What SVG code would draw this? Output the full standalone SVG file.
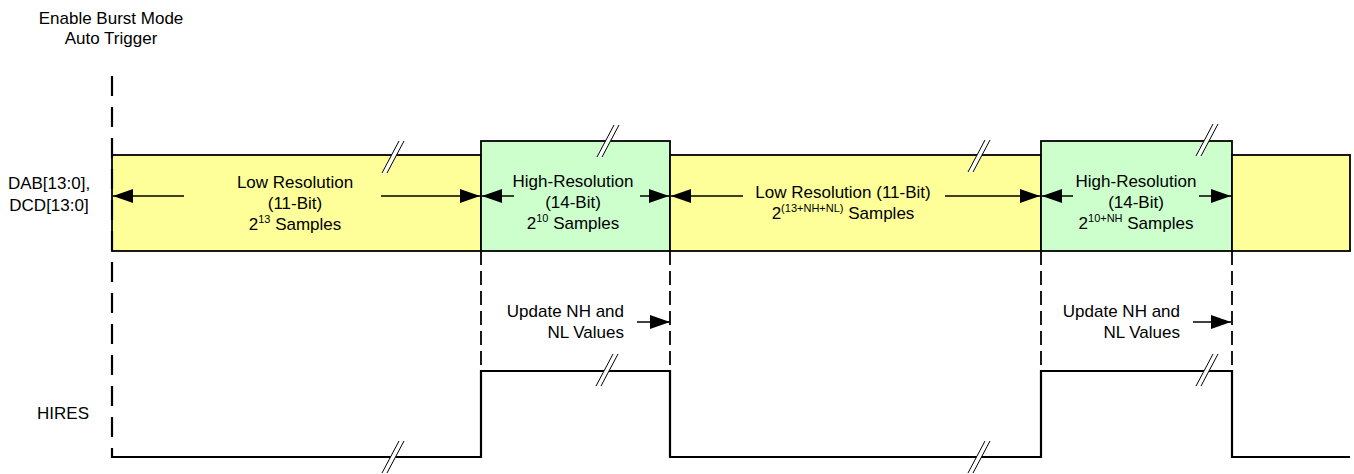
<svg xmlns="http://www.w3.org/2000/svg" width="1354" height="474" viewBox="0 0 1354 474">
<style>
text{font-family:"Liberation Sans",Arial,sans-serif;font-size:17px;fill:#000}
.mid{text-anchor:middle}
.end{text-anchor:end}
.sup{font-size:11px}
.lo{fill:#FFFF99;stroke:#000;stroke-width:1.8}
.hi{fill:#CCFFCC;stroke:#000;stroke-width:1.8}
.arr{stroke:#000;stroke-width:1.5;fill:none;marker-end:url(#ah)}
.dsh{stroke:#000;stroke-width:1.8;stroke-dasharray:14 6;fill:none}
.trig{stroke:#000;stroke-width:2.2;stroke-dasharray:20 11;fill:none}
.wave{stroke:#000;stroke-width:2.2;fill:none}
.brk polygon{fill:#fff;stroke:none}
.brk line{stroke:#000;stroke-width:1}
</style>
<defs>
<marker id="ah" markerUnits="userSpaceOnUse" markerWidth="20" markerHeight="14" refX="20" refY="7" orient="auto">
<path d="M0,0 L20,7 L0,14 z" fill="#000"/>
</marker>
<g id="brk" class="brk">
<polygon points="-12,16 5,-16 10,-16 -7,16"/>
<line x1="-12" y1="16" x2="5" y2="-16"/>
<line x1="-7" y1="16" x2="10" y2="-16"/>
</g>
</defs>
<rect width="1354" height="474" fill="#fff"/>

<g id="labels">
<text class="mid" x="111" y="24">Enable Burst Mode</text>
<text class="mid" x="111" y="44">Auto Trigger</text>
<text class="mid" x="49" y="189">DAB[13:0],</text>
<text class="mid" x="49" y="211">DCD[13:0]</text>
<text class="mid" x="63" y="419">HIRES</text>
</g>

<g id="seg-low1">
<rect class="lo" x="112" y="155" width="369" height="96"/>
<text class="mid" x="295" y="188">Low Resolution</text>
<text class="mid" x="295" y="209">(11-Bit)</text>
<text class="mid" x="295" y="230">2<tspan class="sup" dy="-7">13</tspan><tspan dy="7"> Samples</tspan></text>
</g>
<g id="seg-high1">
<rect class="hi" x="481" y="141" width="189" height="110"/>
<text class="mid" x="573" y="187">High-Resolution</text>
<text class="mid" x="573" y="208">(14-Bit)</text>
<text class="mid" x="573" y="229">2<tspan class="sup" dy="-7">10</tspan><tspan dy="7"> Samples</tspan></text>
</g>
<g id="seg-low2">
<rect class="lo" x="670" y="155" width="371" height="96"/>
<text class="mid" x="843" y="198">Low Resolution (11-Bit)</text>
<text class="mid" x="843" y="219">2<tspan class="sup" dy="-7">(13+NH+NL)</tspan><tspan dy="7"> Samples</tspan></text>
</g>
<g id="seg-high2">
<rect class="hi" x="1041" y="141" width="191" height="110"/>
<text class="mid" x="1136" y="187">High-Resolution</text>
<text class="mid" x="1136" y="208">(14-Bit)</text>
<text class="mid" x="1136" y="229">2<tspan class="sup" dy="-7">10+NH</tspan><tspan dy="7"> Samples</tspan></text>
</g>
<g id="seg-low3">
<rect class="lo" x="1232" y="155" width="118" height="96"/>
</g>

<g id="update1">
<text class="end" x="624" y="317">Update NH and</text>
<text class="end" x="624" y="338">NL Values</text>
</g>
<g id="update2">
<text class="end" x="1180" y="317">Update NH and</text>
<text class="end" x="1180" y="338">NL Values</text>
</g>

<g id="connectors">
<line class="trig" x1="112" y1="76" x2="112" y2="458"/>
<line class="dsh" x1="481" y1="251" x2="481" y2="371"/>
<line class="dsh" x1="670" y1="251" x2="670" y2="371"/>
<line class="dsh" x1="1041" y1="251" x2="1041" y2="371"/>
<line class="dsh" x1="1232" y1="251" x2="1232" y2="371"/>

<line class="arr" x1="184" y1="196" x2="113" y2="196"/>
<line class="arr" x1="381" y1="196" x2="480" y2="196"/>
<line class="arr" x1="514" y1="196" x2="482" y2="196"/>
<line class="arr" x1="640" y1="196" x2="669" y2="196"/>
<line class="arr" x1="743" y1="196" x2="671" y2="196"/>
<line class="arr" x1="945" y1="196" x2="1040" y2="196"/>
<line class="arr" x1="1073" y1="196" x2="1042" y2="196"/>
<line class="arr" x1="1199" y1="196" x2="1231" y2="196"/>

<line class="arr" x1="637" y1="322" x2="670" y2="322"/>
<line class="arr" x1="1193" y1="322" x2="1231" y2="322"/>
</g>

<g id="hires">
<polyline class="wave" points="112,457 481,457 481,371 670,371 670,457 1041,457 1041,371 1232,371 1232,457 1350,457"/>
</g>

<g id="breaks">
<use href="#brk" x="394" y="157"/>
<use href="#brk" x="609" y="141"/>
<use href="#brk" x="980" y="156"/>
<use href="#brk" x="1208" y="140"/>
<use href="#brk" x="608" y="370"/>
<use href="#brk" x="394" y="457"/>
<use href="#brk" x="980" y="457"/>
<use href="#brk" x="1208" y="370"/>
</g>
</svg>
